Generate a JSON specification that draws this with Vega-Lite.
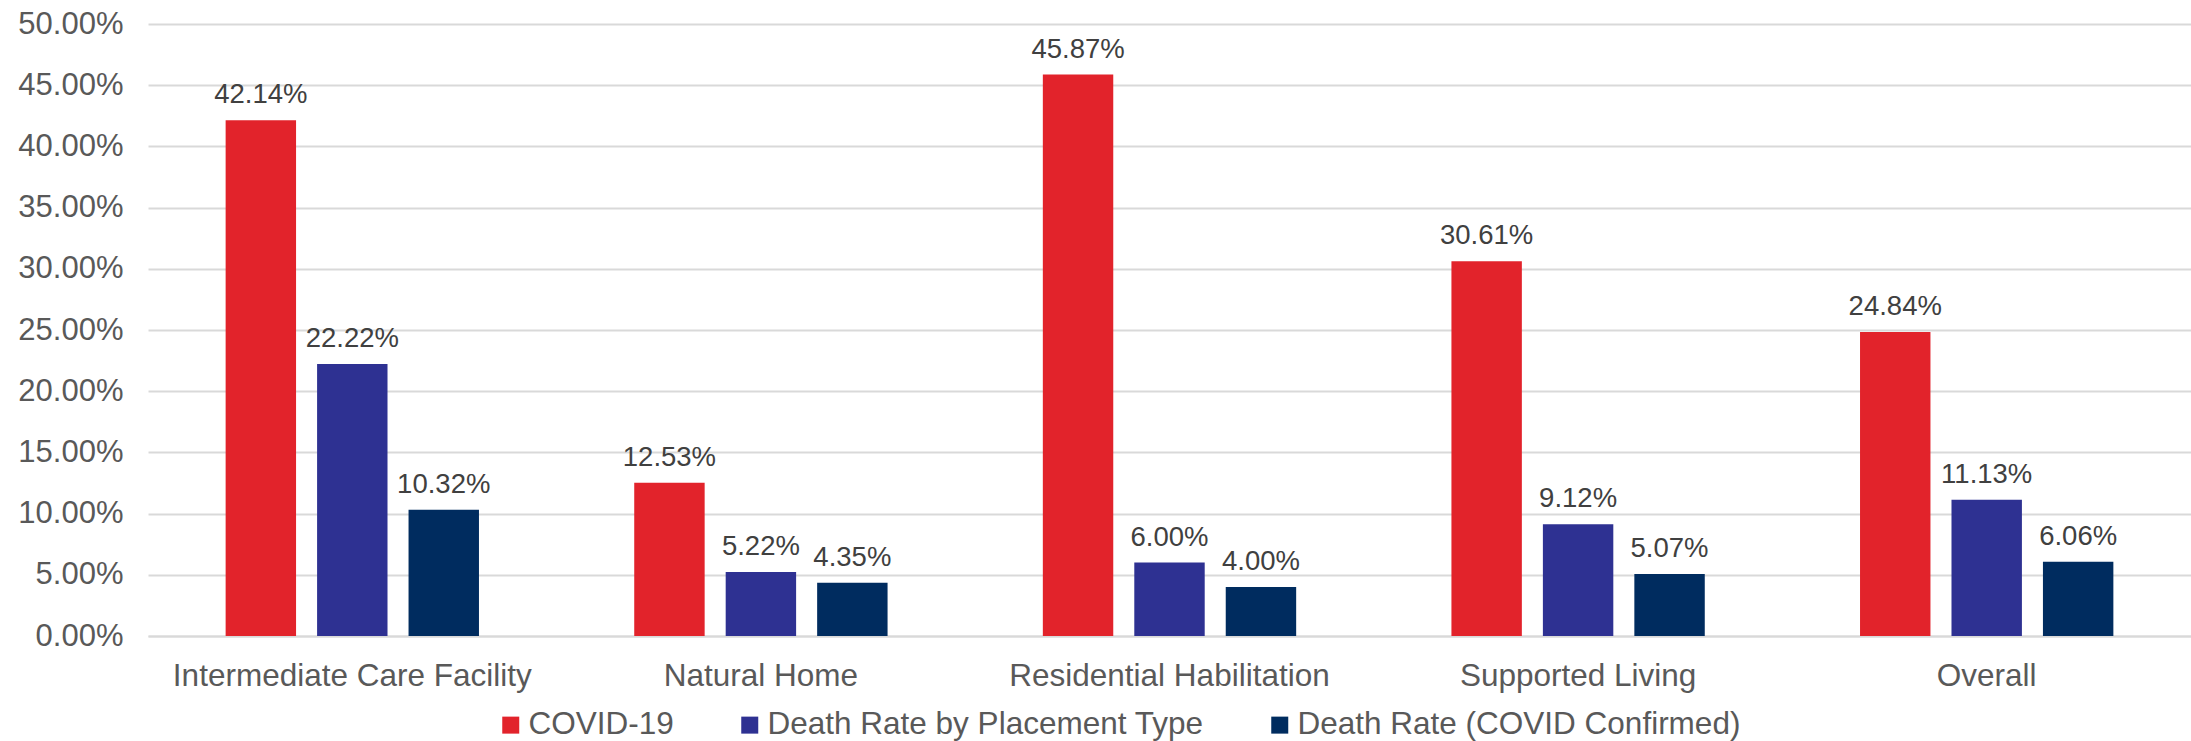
{
  "$schema": "https://vega.github.io/schema/vega-lite/v6.json",
  "width": 2043,
  "height": 612,
  "autosize": {"type": "none"},
  "padding": {"left": 148, "top": 24, "right": 0, "bottom": 105},
  "background": "white",
  "config": {
    "font": "Liberation Sans",
    "view": {"stroke": null}
  },
  "data": {
    "values": [
      {"category": "Intermediate Care Facility", "series": "COVID-19", "value": 0.4214},
      {"category": "Intermediate Care Facility", "series": "Death Rate by Placement Type", "value": 0.2222},
      {"category": "Intermediate Care Facility", "series": "Death Rate (COVID Confirmed)", "value": 0.1032},
      {"category": "Natural Home", "series": "COVID-19", "value": 0.1253},
      {"category": "Natural Home", "series": "Death Rate by Placement Type", "value": 0.0522},
      {"category": "Natural Home", "series": "Death Rate (COVID Confirmed)", "value": 0.0435},
      {"category": "Residential Habilitation", "series": "COVID-19", "value": 0.4587},
      {"category": "Residential Habilitation", "series": "Death Rate by Placement Type", "value": 0.06},
      {"category": "Residential Habilitation", "series": "Death Rate (COVID Confirmed)", "value": 0.04},
      {"category": "Supported Living", "series": "COVID-19", "value": 0.3061},
      {"category": "Supported Living", "series": "Death Rate by Placement Type", "value": 0.0912},
      {"category": "Supported Living", "series": "Death Rate (COVID Confirmed)", "value": 0.0507},
      {"category": "Overall", "series": "COVID-19", "value": 0.2484},
      {"category": "Overall", "series": "Death Rate by Placement Type", "value": 0.1113},
      {"category": "Overall", "series": "Death Rate (COVID Confirmed)", "value": 0.0606}
    ]
  },
  "encoding": {
    "x": {
      "field": "category",
      "type": "nominal",
      "sort": ["Intermediate Care Facility", "Natural Home", "Residential Habilitation", "Supported Living", "Overall"],
      "scale": {"paddingInner": 0.38, "paddingOuter": 0.19},
      "axis": {
        "title": null,
        "labelAngle": 0,
        "labelFontSize": 31.5,
        "labelColor": "#595959",
        "labelPadding": 24,
        "labelLimit": 1000,
        "ticks": false,
        "domain": true,
        "domainColor": "#d9d9d9",
        "domainWidth": 2
      }
    },
    "xOffset": {
      "field": "series",
      "type": "nominal",
      "sort": ["COVID-19", "Death Rate by Placement Type", "Death Rate (COVID Confirmed)"],
      "scale": {"paddingInner": 0.23, "paddingOuter": 0}
    },
    "y": {
      "field": "value",
      "type": "quantitative",
      "scale": {"domain": [0, 0.5], "nice": false},
      "axis": {
        "title": null,
        "format": ".2%",
        "values": [0, 0.05, 0.1, 0.15, 0.2, 0.25, 0.3, 0.35, 0.4, 0.45, 0.5],
        "labelFontSize": 31,
        "labelColor": "#595959",
        "labelPadding": 25,
        "ticks": false,
        "domain": false,
        "grid": true,
        "gridColor": "#d9d9d9",
        "gridWidth": 2
      }
    }
  },
  "layer": [
    {
      "mark": {"type": "bar"},
      "encoding": {
        "color": {
          "field": "series",
          "type": "nominal",
          "scale": {
            "domain": ["COVID-19", "Death Rate by Placement Type", "Death Rate (COVID Confirmed)"],
            "range": ["#E2232B", "#2E3192", "#002C5F"]
          },
          "legend": {
            "title": null,
            "orient": "none",
            "direction": "horizontal",
            "legendX": 347,
            "legendY": 685,
            "symbolType": "square",
            "symbolSize": 289,
            "symbolStrokeWidth": 0,
            "labelFontSize": 31.5,
            "labelColor": "#595959",
            "labelOffset": 2,
            "columnPadding": 60,
            "labelLimit": 1000
          }
        }
      }
    },
    {
      "mark": {"type": "text", "baseline": "alphabetic", "dy": -17, "fontSize": 27.5, "color": "#404040"},
      "encoding": {
        "text": {"field": "value", "type": "quantitative", "format": ".2%"}
      }
    }
  ]
}
